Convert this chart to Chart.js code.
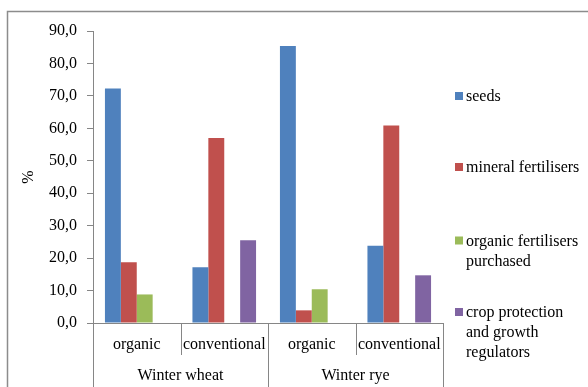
<!DOCTYPE html>
<html>
<head>
<meta charset="utf-8">
<script src="https://cdn.jsdelivr.net/npm/chart.js@4/dist/chart.umd.min.js"></script>
<style>
  html, body { margin: 0; padding: 0; background: #fff; }
  #wrap { width: 588px; height: 387px; }
</style>
</head>
<body>
<div id="wrap"><canvas id="c" width="588" height="387"></canvas></div>
<script>
// Input cost shares (%) by crop and farming system
const categories = ['organic', 'conventional', 'organic', 'conventional'];
const groups = ['Winter wheat', 'Winter rye'];
const seriesNames = [
  ['seeds'],
  ['mineral fertilisers'],
  ['organic fertilisers', 'purchased'],
  ['crop protection', 'and growth', 'regulators']
];
const seeds = [72.3, 17.2, 85.4, 23.8];
const mineralFertilisers = [18.7, 57.0, 3.9, 60.9];
const organicFertilisers = [8.8, null, 10.4, null];
const cropProtection = [null, 25.5, null, 14.7];
const yTicks = [0, 10, 20, 30, 40, 50, 60, 70, 80, 90];

const colors = ['#4F81BD', '#C0504D', '#9BBB59', '#8064A2'];
const FONT = '"Liberation Serif", "Times New Roman", serif';
const AXIS = '#868686';

// legend baselines for the first line of each entry
const legendBaselines = [101, 172, 245.5, 317];
const legendLineHeight = 20;

const chrome = {
  id: 'chrome',
  beforeDraw(chart) {
    const ctx = chart.ctx;
    ctx.save();
    ctx.strokeStyle = '#8c8c8c';
    ctx.lineWidth = 1.5;
    ctx.beginPath();
    ctx.moveTo(7.5, 400);
    ctx.lineTo(7.5, 11.5);
    ctx.lineTo(600, 11.5);
    ctx.stroke();
    ctx.restore();
  },
  afterDraw(chart) {
    const ctx = chart.ctx;
    const x = chart.scales.x;
    const area = chart.chartArea;
    const n = categories.length;
    const step = (area.right - area.left) / n;
    ctx.save();
    // category dividers under the axis
    ctx.strokeStyle = AXIS;
    ctx.lineWidth = 1;
    for (let i = 0; i <= n; i++) {
      const bx = Math.round(x.getPixelForValue(0) - step / 2 + i * step) + 0.5;
      const long = (i % 2 === 0);
      ctx.beginPath();
      ctx.moveTo(bx, area.bottom);
      ctx.lineTo(bx, long ? chart.height : area.bottom + 32);
      ctx.stroke();
    }
    // group labels
    ctx.fillStyle = '#000';
    ctx.font = '16px ' + FONT;
    ctx.textAlign = 'center';
    ctx.textBaseline = 'alphabetic';
    groups.forEach((g, gi) => {
      const cx = (x.getPixelForValue(gi * 2) + x.getPixelForValue(gi * 2 + 1)) / 2;
      ctx.fillText(g, cx, 380);
    });
    // legend
    ctx.textAlign = 'left';
    seriesNames.forEach((lines, si) => {
      const base = legendBaselines[si];
      ctx.fillStyle = colors[si];
      ctx.fillRect(455, base - 9, 8, 8);
      ctx.fillStyle = '#000';
      lines.forEach((t, li) => ctx.fillText(t, 466, base + li * legendLineHeight));
    });
    ctx.restore();
  }
};

const datasets = [seeds, mineralFertilisers, organicFertilisers, cropProtection].map((d, i) => ({
  label: seriesNames[i].join(' '),
  data: d,
  backgroundColor: colors[i],
  borderWidth: 0,
  categoryPercentage: 0.727,
  barPercentage: 1.0
}));

new Chart(document.getElementById('c'), {
  type: 'bar',
  data: { labels: categories, datasets },
  options: {
    responsive: false,
    animation: false,
    devicePixelRatio: 1,
    layout: { padding: { top: 31, left: 7, right: 145, bottom: 0 } },
    plugins: { legend: { display: false }, tooltip: { enabled: false } },
    scales: {
      x: {
        grid: { display: false, drawTicks: false },
        border: { display: true, color: AXIS, width: 1 },
        ticks: { color: '#000', font: { family: FONT, size: 16 }, padding: 12, maxRotation: 0, autoSkip: false },
        afterFit(s) { s.height = 64; }
      },
      y: {
        min: 0,
        max: 90,
        afterBuildTicks(s) { s.ticks = yTicks.map(v => ({ value: v })); },
        grid: { drawOnChartArea: false, drawTicks: true, tickLength: 6, color: AXIS },
        border: { display: true, color: AXIS, width: 1 },
        ticks: {
          color: '#000',
          font: { family: FONT, size: 16 },
          padding: 10,
          callback: v => v.toFixed(1).replace('.', ',')
        },
        title: { display: true, text: '%', color: '#000', font: { family: FONT, size: 16 }, padding: { top: 12, bottom: 0 } },
        afterFit(s) { s.width = 86; }
      }
    }
  },
  plugins: [chrome]
});
</script>
</body>
</html>
